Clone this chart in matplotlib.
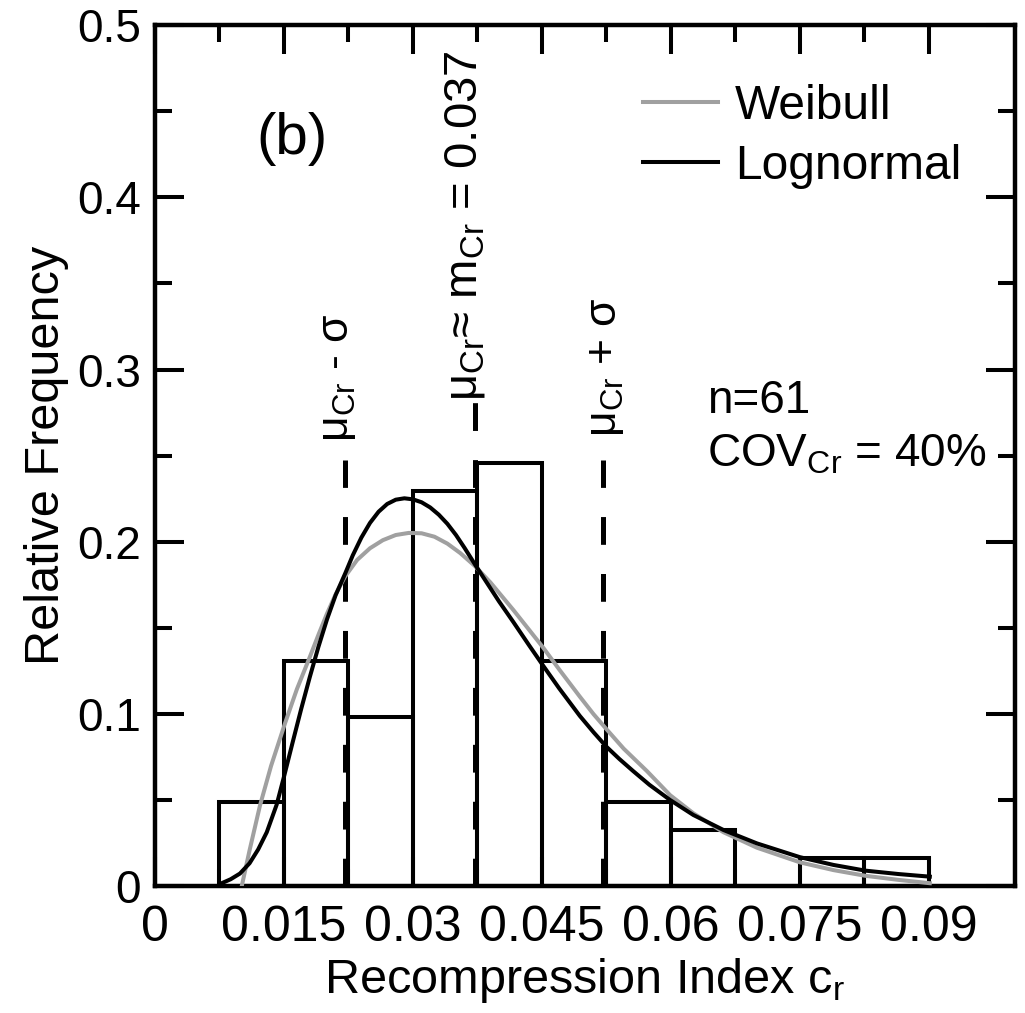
import numpy as np
import matplotlib
matplotlib.use("Agg")
import matplotlib.pyplot as plt

plt.rcParams["font.family"] = ["Liberation Sans", "DejaVu Sans"]
plt.rcParams["mathtext.fontset"] = "custom"
plt.rcParams["mathtext.rm"] = "Liberation Sans"
plt.rcParams["mathtext.it"] = "Liberation Sans"
plt.rcParams["mathtext.default"] = "regular"
plt.rcParams["lines.scale_dashes"] = False

GREY = "#a0a0a0"

# ─── data ────────────────────────────────────────────────────────────────────
bin_edges = [0.0075, 0.015, 0.0225, 0.03, 0.0375, 0.045, 0.0525,
             0.06, 0.0675, 0.075, 0.0825, 0.09]
counts = [3, 8, 6, 14, 15, 8, 3, 2, 0, 1, 1]
n_samples = 61

lognorm_x = [0.00776, 0.0088, 0.00988, 0.0110, 0.0120, 0.0130, 0.01415,
             0.0150, 0.0160, 0.0170, 0.0180, 0.0190, 0.0200, 0.0210,
             0.02213, 0.0230, 0.0240, 0.0250, 0.0260, 0.0270, 0.0280,
             0.0290, 0.0300, 0.0310, 0.0320, 0.0330, 0.0340, 0.0350,
             0.0360, 0.0372, 0.0385, 0.0400, 0.04167, 0.0435, 0.04516,
             0.0470, 0.0494, 0.0510, 0.0525, 0.0540, 0.0556, 0.0575,
             0.0599, 0.0626, 0.0661, 0.0700, 0.0750, 0.0789, 0.0826,
             0.0865, 0.0901]
lognorm_y = [0.0019, 0.0042, 0.0075, 0.0135, 0.0215, 0.0315, 0.0475,
             0.0637, 0.0835, 0.1030, 0.1215, 0.1390, 0.1550, 0.1690,
             0.1818, 0.1922, 0.2025, 0.2110, 0.2175, 0.2220, 0.2245,
             0.2253, 0.2247, 0.2230, 0.2200, 0.2158, 0.2105, 0.2040,
             0.1965, 0.1870, 0.1770, 0.1655, 0.1535, 0.1400, 0.1280,
             0.1150, 0.0990, 0.0895, 0.0811, 0.0740, 0.0670, 0.0590,
             0.0502, 0.0415, 0.0328, 0.0250, 0.0170, 0.0125, 0.0092,
             0.0072, 0.0057]

weibull_x = [0.01008, 0.0110, 0.01221, 0.0135, 0.01512, 0.0165, 0.01802,
             0.0190, 0.01997, 0.0210, 0.02209, 0.0235, 0.0250, 0.0265,
             0.0280, 0.0295, 0.0310, 0.0325, 0.0340, 0.0355, 0.0372,
             0.0390, 0.04167, 0.0435, 0.04516, 0.0470, 0.0494, 0.0510,
             0.0525, 0.0545, 0.0572, 0.0599, 0.0626, 0.0661, 0.0700,
             0.0750, 0.0789, 0.0826, 0.0865, 0.0901]
weibull_y = [0.0, 0.021, 0.047, 0.070, 0.0947, 0.1145, 0.1334,
             0.1460, 0.1580, 0.1695, 0.1798, 0.1895, 0.1963, 0.2010,
             0.2040, 0.2052, 0.2050, 0.2030, 0.1990, 0.1935, 0.1860,
             0.1765, 0.1605, 0.1490, 0.1385, 0.1260, 0.1102, 0.1000,
             0.0913, 0.0800, 0.0670, 0.0530, 0.0425, 0.0315, 0.0225,
             0.0140, 0.0095, 0.0062, 0.0038, 0.0019]

# mean and mean +/- one standard deviation
marker_x = [0.0221, 0.0372, 0.0521]
marker_top = [0.2475, 0.281, 0.2475]
marker_text = [r"$μ_{Cr}$ - σ", r"$μ_{Cr}$≈ $m_{Cr}$ = 0.037", r"$μ_{Cr}$ + σ"]
marker_text_x = [0.02128, 0.03605, 0.05244]
marker_text_y = [0.258, 0.282, 0.261]
marker_text_size = [32, 34, 32]

x_ticks = [0, 0.015, 0.03, 0.045, 0.06, 0.075, 0.09]
x_ticklabels = ["0", "0.015", "0.03", "0.045", "0.06", "0.075", "0.09"]
y_ticks = [0, 0.1, 0.2, 0.3, 0.4, 0.5]
y_ticklabels = ["0", "0.1", "0.2", "0.3", "0.4", "0.5"]

# ─── figure ──────────────────────────────────────────────────────────────────
fig = plt.figure(figsize=(10.25, 10.13), dpi=100)
ax = fig.add_axes([0.1512, 0.1249, 0.8390, 0.8504])

rel_freq = np.array(counts) / n_samples
widths = np.diff(bin_edges)
ax.bar(bin_edges[:-1], rel_freq, width=widths, align="edge",
       facecolor="none", edgecolor="black", linewidth=2.9, zorder=2)

for x, top in zip(marker_x, marker_top):
    ax.plot([x, x], [0, top], color="black", linewidth=3.6,
            dashes=(20, 21), zorder=3)

ax.plot(weibull_x, weibull_y, color=GREY, linewidth=2.9, label="Weibull", zorder=4)
ax.plot(lognorm_x, lognorm_y, color="black", linewidth=2.9, label="Lognormal", zorder=5)

for tx, ty, s, fs in zip(marker_text_x, marker_text_y, marker_text, marker_text_size):
    ax.text(tx, ty, s, rotation=90, ha="center", va="bottom", fontsize=fs)

ax.text(0.0159, 0.4338, "(b)", ha="center", va="center", fontsize=42)
ax.text(0.06415, 0.2748, "n=61", ha="left", va="baseline", fontsize=33)
ax.text(0.06415, 0.2435, r"COV$_{Cr}$ = 40%", ha="left", va="baseline", fontsize=33)

ax.legend(loc="upper left", bbox_to_anchor=(0.5674, 0.932), frameon=False,
          fontsize=34.5, handlelength=1.565, handletextpad=0.36,
          labelspacing=0.32, borderpad=0, borderaxespad=0)

ax.set_xlim(0, 0.1)
ax.set_ylim(0, 0.5)
ax.set_xticks(x_ticks)
ax.set_xticklabels(x_ticklabels)
ax.set_xticks(np.array(bin_edges[::2]), minor=True)
ax.set_yticks(y_ticks)
ax.set_yticklabels(y_ticklabels)
ax.set_yticks([0.05, 0.15, 0.25, 0.35, 0.45], minor=True)

ax.tick_params(which="both", direction="in", top=True, right=True, width=2.9)
ax.tick_params(which="major", length=21)
ax.tick_params(which="minor", length=12)
ax.tick_params(axis="x", pad=13, labelsize=36)
ax.tick_params(axis="y", pad=10, labelsize=33)
ax.spines[:].set_linewidth(3.2)

ax.set_xlabel(r"Recompression Index c$_r$", fontsize=35, labelpad=4)
ax.set_ylabel("Relative Frequency", fontsize=35, labelpad=6)

fig.savefig("out.png", dpi=100)
